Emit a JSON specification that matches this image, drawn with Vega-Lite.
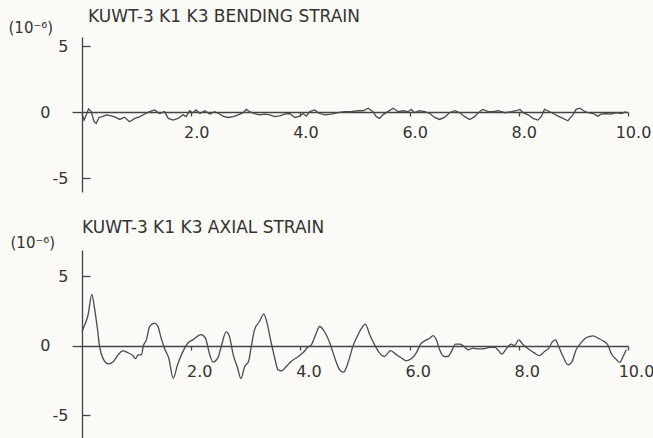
{
  "$schema": "https://vega.github.io/schema/vega-lite/v6.json",
  "background": "#fbfaf6",
  "padding": {"left": 8, "top": 8, "right": 0, "bottom": 0},
  "spacing": 27,
  "config": {
    "view": {"stroke": null},
    "font": "DejaVu Sans",
    "axis": {"domainColor": "#444", "domainWidth": 1.3, "tickColor": "#444", "tickWidth": 1.3, "labelColor": "#333", "labelFont": "DejaVu Sans", "labelFontSize": 16, "titleFont": "DejaVu Sans", "titleFontSize": 15, "titleFontWeight": "normal", "titleColor": "#333", "grid": false},
    "title": {"font": "DejaVu Sans", "fontSize": 17, "fontWeight": "normal", "color": "#333", "anchor": "start", "frame": "group"}
  },
  "datasets": {
    "bending": [
      {"t": 0, "v": -0.1}, {"t": 0.04, "v": -0.6}, {"t": 0.08, "v": -0.2}, {"t": 0.12, "v": 0.25}, {"t": 0.17, "v": 0.04},
      {"t": 0.22, "v": -0.72}, {"t": 0.26, "v": -0.85}, {"t": 0.31, "v": -0.4}, {"t": 0.37, "v": -0.34}, {"t": 0.45, "v": -0.2},
      {"t": 0.54, "v": -0.28}, {"t": 0.61, "v": -0.38}, {"t": 0.69, "v": -0.55}, {"t": 0.78, "v": -0.38}, {"t": 0.87, "v": -0.72},
      {"t": 0.97, "v": -0.47}, {"t": 1.06, "v": -0.34}, {"t": 1.15, "v": -0.14}, {"t": 1.24, "v": 0.04}, {"t": 1.33, "v": 0.17},
      {"t": 1.42, "v": -0.1}, {"t": 1.51, "v": 0.04}, {"t": 1.58, "v": -0.47}, {"t": 1.67, "v": -0.6}, {"t": 1.76, "v": -0.47},
      {"t": 1.85, "v": -0.2}, {"t": 1.91, "v": -0.34}, {"t": 1.97, "v": 0.11}, {"t": 2.03, "v": -0.04}, {"t": 2.09, "v": 0.17},
      {"t": 2.16, "v": -0.1}, {"t": 2.25, "v": 0.11}, {"t": 2.34, "v": -0.14}, {"t": 2.43, "v": 0.04}, {"t": 2.52, "v": -0.14},
      {"t": 2.58, "v": -0.3}, {"t": 2.67, "v": -0.4}, {"t": 2.77, "v": -0.34}, {"t": 2.86, "v": -0.2}, {"t": 2.95, "v": -0.04},
      {"t": 3.01, "v": 0.21}, {"t": 3.07, "v": 0.04}, {"t": 3.16, "v": -0.1}, {"t": 3.25, "v": -0.2}, {"t": 3.35, "v": -0.14},
      {"t": 3.44, "v": -0.2}, {"t": 3.53, "v": -0.34}, {"t": 3.62, "v": -0.28}, {"t": 3.71, "v": -0.14}, {"t": 3.8, "v": -0.1},
      {"t": 3.9, "v": -0.4}, {"t": 3.99, "v": -0.3}, {"t": 4.05, "v": -0.1}, {"t": 4.11, "v": -0.3}, {"t": 4.17, "v": 0.04},
      {"t": 4.26, "v": 0.17}, {"t": 4.35, "v": -0.1}, {"t": 4.45, "v": -0.2}, {"t": 4.57, "v": -0.14}, {"t": 4.69, "v": -0.04},
      {"t": 4.81, "v": 0.04}, {"t": 4.93, "v": 0.04}, {"t": 5.05, "v": 0.11}, {"t": 5.15, "v": 0.11}, {"t": 5.24, "v": 0.3},
      {"t": 5.33, "v": 0.04}, {"t": 5.39, "v": -0.34}, {"t": 5.45, "v": -0.47}, {"t": 5.51, "v": -0.2}, {"t": 5.6, "v": 0.04},
      {"t": 5.7, "v": 0.3}, {"t": 5.79, "v": 0.04}, {"t": 5.88, "v": 0.11}, {"t": 5.97, "v": 0.04}, {"t": 6.03, "v": 0.21},
      {"t": 6.09, "v": -0.04}, {"t": 6.18, "v": 0.11}, {"t": 6.28, "v": 0.04}, {"t": 6.37, "v": -0.1}, {"t": 6.46, "v": -0.4},
      {"t": 6.55, "v": -0.55}, {"t": 6.64, "v": -0.4}, {"t": 6.73, "v": -0.04}, {"t": 6.83, "v": 0.11}, {"t": 6.92, "v": -0.04},
      {"t": 7.01, "v": -0.34}, {"t": 7.1, "v": -0.55}, {"t": 7.19, "v": -0.34}, {"t": 7.28, "v": 0.04}, {"t": 7.34, "v": 0.21},
      {"t": 7.44, "v": 0.04}, {"t": 7.53, "v": 0.04}, {"t": 7.62, "v": 0.11}, {"t": 7.74, "v": -0.04}, {"t": 7.86, "v": 0.04},
      {"t": 7.95, "v": 0.11}, {"t": 8.02, "v": 0.21}, {"t": 8.08, "v": -0.04}, {"t": 8.17, "v": -0.2}, {"t": 8.26, "v": -0.47},
      {"t": 8.35, "v": -0.6}, {"t": 8.41, "v": -0.34}, {"t": 8.47, "v": 0.21}, {"t": 8.53, "v": 0.11}, {"t": 8.63, "v": -0.1},
      {"t": 8.72, "v": -0.3}, {"t": 8.81, "v": -0.47}, {"t": 8.9, "v": -0.65}, {"t": 8.99, "v": -0.2}, {"t": 9.05, "v": 0.21},
      {"t": 9.12, "v": 0.3}, {"t": 9.19, "v": 0.11}, {"t": 9.27, "v": -0.04}, {"t": 9.36, "v": -0.1}, {"t": 9.45, "v": -0.3},
      {"t": 9.51, "v": -0.14}, {"t": 9.6, "v": -0.1}, {"t": 9.69, "v": -0.14}, {"t": 9.79, "v": -0.04}, {"t": 9.88, "v": -0.1},
      {"t": 9.97, "v": 0.04}
    ],
    "axial": [
      {"t": 0, "v": 1.03}, {"t": 0.05, "v": 1.5}, {"t": 0.11, "v": 2.2}, {"t": 0.18, "v": 3.7}, {"t": 0.23, "v": 2.7},
      {"t": 0.28, "v": 1.3}, {"t": 0.32, "v": 0}, {"t": 0.38, "v": -0.87}, {"t": 0.48, "v": -1.3}, {"t": 0.57, "v": -1.15},
      {"t": 0.66, "v": -0.65}, {"t": 0.75, "v": -0.36}, {"t": 0.84, "v": -0.5}, {"t": 0.93, "v": -0.7}, {"t": 0.98, "v": -0.93},
      {"t": 1.03, "v": -0.65}, {"t": 1.09, "v": -0.65}, {"t": 1.12, "v": -0.05}, {"t": 1.18, "v": 0.43}, {"t": 1.24, "v": 1.4},
      {"t": 1.33, "v": 1.63}, {"t": 1.39, "v": 1.4}, {"t": 1.45, "v": 0.55}, {"t": 1.51, "v": -0.17}, {"t": 1.59, "v": -0.9},
      {"t": 1.67, "v": -2.33}, {"t": 1.75, "v": -1.37}, {"t": 1.85, "v": -0.4}, {"t": 1.94, "v": 0.2}, {"t": 2.03, "v": 0.43},
      {"t": 2.18, "v": 0.8}, {"t": 2.26, "v": 0.55}, {"t": 2.34, "v": -0.65}, {"t": 2.4, "v": -1.17}, {"t": 2.49, "v": -0.85},
      {"t": 2.55, "v": -0.05}, {"t": 2.64, "v": 1.0}, {"t": 2.7, "v": 0.67}, {"t": 2.77, "v": -0.65}, {"t": 2.85, "v": -1.6},
      {"t": 2.91, "v": -2.37}, {"t": 2.98, "v": -1.49}, {"t": 3.05, "v": -1.13}, {"t": 3.1, "v": -0.05}, {"t": 3.16, "v": 1.15},
      {"t": 3.25, "v": 1.75}, {"t": 3.33, "v": 2.28}, {"t": 3.39, "v": 1.63}, {"t": 3.46, "v": 0.31}, {"t": 3.53, "v": -0.88},
      {"t": 3.59, "v": -1.73}, {"t": 3.66, "v": -1.8}, {"t": 3.74, "v": -1.49}, {"t": 3.83, "v": -1.13}, {"t": 3.96, "v": -0.77},
      {"t": 4.07, "v": -0.41}, {"t": 4.13, "v": -0.12}, {"t": 4.2, "v": 0.07}, {"t": 4.29, "v": 0.91}, {"t": 4.35, "v": 1.39},
      {"t": 4.44, "v": 1.03}, {"t": 4.54, "v": 0.19}, {"t": 4.63, "v": -0.88}, {"t": 4.72, "v": -1.73}, {"t": 4.79, "v": -1.9},
      {"t": 4.88, "v": -1.13}, {"t": 4.96, "v": -0.05}, {"t": 5.05, "v": 0.75}, {"t": 5.12, "v": 1.27}, {"t": 5.19, "v": 1.56},
      {"t": 5.27, "v": 0.79}, {"t": 5.36, "v": 0.07}, {"t": 5.45, "v": -0.53}, {"t": 5.54, "v": -0.77}, {"t": 5.65, "v": -0.34},
      {"t": 5.76, "v": -0.65}, {"t": 5.85, "v": -0.88}, {"t": 5.94, "v": -1.08}, {"t": 6.03, "v": -0.94}, {"t": 6.12, "v": -0.53},
      {"t": 6.2, "v": 0.12}, {"t": 6.31, "v": 0.43}, {"t": 6.37, "v": 0.55}, {"t": 6.43, "v": 0.74}, {"t": 6.49, "v": 0.43},
      {"t": 6.55, "v": -0.29}, {"t": 6.63, "v": -0.77}, {"t": 6.7, "v": -0.77}, {"t": 6.78, "v": -0.29}, {"t": 6.84, "v": 0.12},
      {"t": 6.92, "v": 0.12}, {"t": 7.0, "v": -0.05}, {"t": 7.07, "v": -0.29}, {"t": 7.16, "v": -0.17}, {"t": 7.25, "v": -0.22},
      {"t": 7.34, "v": -0.22}, {"t": 7.47, "v": -0.12}, {"t": 7.56, "v": -0.12}, {"t": 7.64, "v": -0.4}, {"t": 7.69, "v": -0.6},
      {"t": 7.77, "v": -0.22}, {"t": 7.86, "v": 0.12}, {"t": 7.92, "v": 0.02}, {"t": 8.0, "v": 0.43}, {"t": 8.08, "v": 0.07},
      {"t": 8.2, "v": -0.29}, {"t": 8.29, "v": -0.53}, {"t": 8.38, "v": -0.7}, {"t": 8.47, "v": -0.41}, {"t": 8.55, "v": -0.17},
      {"t": 8.61, "v": 0.26}, {"t": 8.67, "v": 0.43}, {"t": 8.73, "v": -0.05}, {"t": 8.81, "v": -0.77}, {"t": 8.9, "v": -1.37},
      {"t": 8.97, "v": -1.17}, {"t": 9.05, "v": -0.29}, {"t": 9.15, "v": 0.26}, {"t": 9.24, "v": 0.6}, {"t": 9.36, "v": 0.72},
      {"t": 9.45, "v": 0.55}, {"t": 9.54, "v": 0.36}, {"t": 9.63, "v": 0.07}, {"t": 9.69, "v": -0.53}, {"t": 9.79, "v": -1.0},
      {"t": 9.85, "v": -1.2}, {"t": 9.91, "v": -0.77}, {"t": 9.97, "v": -0.29}
    ]
  },
  "vconcat": [
    {
      "width": 546,
      "height": 155,
      "title": {"text": "KUWT-3 K1 K3 BENDING STRAIN", "dx": 6, "offset": -6},
      "data": {"name": "bending"},
      "mark": {"type": "line", "color": "#4a4a4a", "strokeWidth": 1.3},
      "encoding": {
        "x": {
          "field": "t", "type": "quantitative",
          "scale": {"domain": [0, 10], "nice": false},
          "axis": {"orient": "bottom", "offset": -80, "values": [2, 4, 6, 8, 10], "format": ".1f", "tickSize": 4, "labelPadding": 8, "labelOffset": 5, "labelAlign": "center", "title": null}
        },
        "y": {
          "field": "v", "type": "quantitative",
          "scale": {"domain": [-6.05, 5.7], "nice": false, "zero": false},
          "axis": {"values": [-5, 0, 5], "labelExpr": "datum.value < 0 ? '-' + abs(datum.value) : '' + datum.value", "tickSize": {"condition": {"test": "datum.value === 0", "value": 10}, "value": -8}, "labelPadding": 22, "title": "(10⁻⁶)", "titleAngle": 0, "titleAlign": "left", "titleBaseline": "middle", "titleX": -74, "titleY": -10}
        }
      }
    },
    {
      "width": 546,
      "height": 193,
      "title": {"text": "KUWT-3 K1 K3 AXIAL STRAIN", "dx": 0, "offset": -2},
      "data": {"name": "axial"},
      "mark": {"type": "line", "color": "#4a4a4a", "strokeWidth": 1.3, "interpolate": "monotone"},
      "encoding": {
        "x": {
          "field": "t", "type": "quantitative",
          "scale": {"domain": [0, 10], "nice": false},
          "axis": {"orient": "bottom", "offset": -97, "values": [2, 4, 6, 8, 10], "format": ".1f", "tickSize": 4, "labelPadding": 13, "labelOffset": 8, "labelAlign": "center", "title": null}
        },
        "y": {
          "field": "v", "type": "quantitative",
          "scale": {"domain": [-7, 6.9], "nice": false, "zero": false},
          "axis": {"values": [-5, 0, 5], "labelExpr": "datum.value < 0 ? '-' + abs(datum.value) : '' + datum.value", "tickSize": {"condition": {"test": "datum.value === 0", "value": 10}, "value": -8}, "labelPadding": 22, "title": "(10⁻⁶)", "titleAngle": 0, "titleAlign": "left", "titleBaseline": "middle", "titleX": -72, "titleY": -8}
        }
      }
    }
  ]
}
